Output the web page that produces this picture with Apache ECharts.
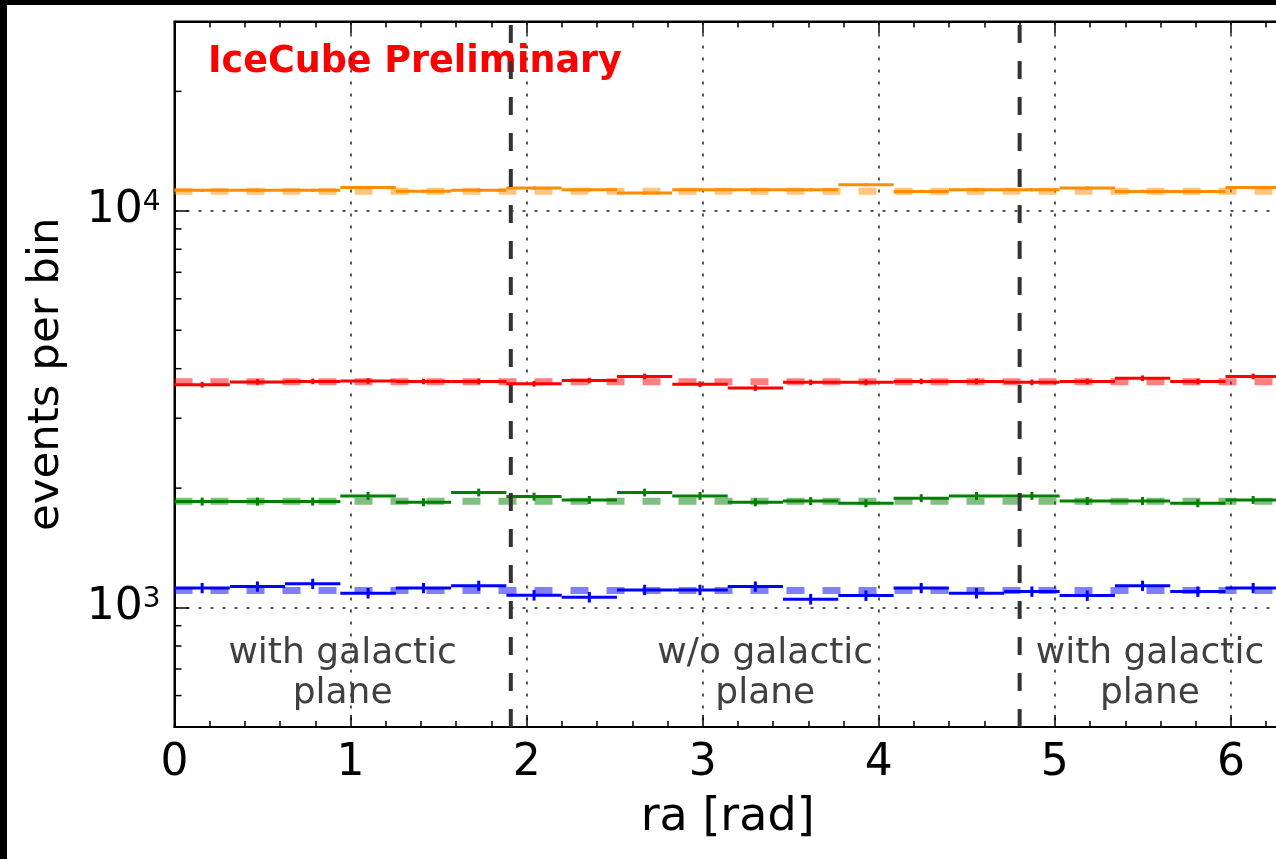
<!DOCTYPE html>
<html>
<head>
<meta charset="utf-8">
<script src="https://cdn.jsdelivr.net/npm/echarts@6/dist/echarts.min.js"></script>
<style>
    html, body {margin: 0; padding: 0; background: #000; width: 1276px; height: 859px; overflow: hidden;}
    #chart {position: absolute; left: 7px; top: 5px; width: 1269px; height: 854px; background: #fff;}
</style>
</head>
<body>
<div id="chart"></div>
<script>
// ra bin edges [rad], 20 bins over 0..2pi
const binEdges = [0, 0.314, 0.628, 0.942, 1.257, 1.571, 1.885, 2.199, 2.513, 2.827, 3.142,
    3.456, 3.770, 4.084, 4.398, 4.712, 5.027, 5.341, 5.655, 5.969, 6.283];

// events per bin (data, solid) and expectation (dashed)
const orangeData = [11260, 11260, 11260, 11450, 11200, 11270, 11410, 11300, 11090, 11300,
    11300, 11300, 11640, 11190, 11300, 11300, 11410, 11190, 11190, 11450];
const orangeExp = [11200, 11200, 11200, 11200, 11200, 11200, 11200, 11200, 11200, 11200,
    11200, 11200, 11200, 11200, 11200, 11200, 11200, 11200, 11200, 11200];
const redData = [3645, 3705, 3715, 3725, 3715, 3715, 3665, 3735, 3825, 3655,
    3575, 3695, 3695, 3715, 3715, 3695, 3715, 3785, 3715, 3825];
const redExp = [3710, 3710, 3710, 3710, 3710, 3710, 3710, 3710, 3710, 3710,
    3710, 3710, 3710, 3710, 3710, 3710, 3710, 3710, 3710, 3710];
const greenData = [1850, 1850, 1850, 1912, 1843, 1950, 1904, 1868, 1950, 1912,
    1843, 1856, 1833, 1887, 1912, 1912, 1857, 1857, 1833, 1868];
const greenExp = [1852, 1852, 1852, 1852, 1852, 1852, 1852, 1852, 1852, 1852,
    1852, 1852, 1852, 1852, 1852, 1852, 1852, 1852, 1852, 1852];
const blueData = [1120, 1130, 1148, 1087, 1120, 1135, 1074, 1062, 1108, 1108,
    1130, 1050, 1072, 1120, 1087, 1097, 1072, 1135, 1097, 1120];
const blueExp = [1104, 1104, 1104, 1104, 1104, 1104, 1104, 1104, 1104, 1104,
    1104, 1104, 1104, 1104, 1104, 1104, 1104, 1104, 1104, 1104];

// galactic plane boundaries and region labels
const planeEdges = [1.91, 4.80];
const regionX = [0.955, 3.355, 5.54];
const regionY = 680;
const regionText = ['with galactic\nplane', 'w/o galactic\nplane', 'with galactic\nplane'];

// y minor ticks (log axis)
const yMinorTicks = [600, 700, 800, 900, 2000, 3000, 4000, 5000, 6000, 7000, 8000, 9000, 20000];

const Y_MIN = 500, Y_MAX = 30000, RA_MAX = 6.2832;
const FONT = 'DejaVu Sans';

const groups = [
    {color: '#ff8c00', data: orangeData, exp: orangeExp},
    {color: '#ff0000', data: redData, exp: redExp},
    {color: '#008000', data: greenData, exp: greenExp},
    {color: '#0000ff', data: blueData, exp: blueExp}
];

function histRender(color) {
    return function (params, api) {
        const v = api.value(2), err = api.value(3);
        const lo = api.coord([api.value(0), v]);
        const hi = api.coord([api.value(1), v]);
        const mid = (api.value(0) + api.value(1)) / 2;
        const top = api.coord([mid, v + err]);
        const bot = api.coord([mid, v - err]);
        return {
            type: 'group',
            children: [
                {type: 'line', shape: {x1: lo[0], y1: lo[1], x2: hi[0], y2: hi[1]}, style: {stroke: color, lineWidth: 3}},
                {type: 'line', shape: {x1: top[0], y1: top[1], x2: bot[0], y2: bot[1]}, style: {stroke: color, lineWidth: 3}}
            ]
        };
    };
}

let series = [];
groups.forEach(function (g) {
    let expPoints = binEdges.map(function (x, i) {
        return [x, g.exp[Math.min(i, g.exp.length - 1)]];
    });
    series.push({
        type: 'line',
        step: 'end',
        data: expPoints,
        showSymbol: false,
        silent: true,
        z: 2,
        lineStyle: {color: g.color, width: 7, type: [18, 18], opacity: 0.5}
    });
});
groups.forEach(function (g) {
    let bins = g.data.map(function (v, i) {
        return [binEdges[i], binEdges[i + 1], v, Math.sqrt(v)];
    });
    series.push({
        type: 'custom',
        data: bins,
        encode: {x: [0, 1], y: 2},
        renderItem: histRender(g.color),
        silent: true,
        z: 3
    });
});
planeEdges.forEach(function (x) {
    series.push({
        type: 'line',
        data: [[x, Y_MIN], [x, Y_MAX]],
        showSymbol: false,
        silent: true,
        z: 4,
        lineStyle: {color: '#333', width: 4, type: [18, 18]}
    });
});
series.push({
    type: 'custom',
    data: regionX.map(function (x, i) { return [x, regionY, i]; }),
    encode: {x: 0, y: 1},
    silent: true,
    z: 5,
    renderItem: function (params, api) {
        const p = api.coord([api.value(0), api.value(1)]);
        return {
            type: 'text',
            x: p[0], y: p[1],
            style: {
                text: regionText[api.value(2)],
                fill: '#404040',
                font: '36px "' + FONT + '"',
                align: 'center',
                verticalAlign: 'middle',
                lineHeight: 40
            }
        };
    }
});
series.push({
    type: 'custom',
    data: yMinorTicks.map(function (v) { return [0, v]; }),
    encode: {x: 0, y: 1},
    silent: true,
    z: 6,
    renderItem: function (params, api) {
        const p = api.coord([api.value(0), api.value(1)]);
        return {
            type: 'line',
            shape: {x1: p[0], y1: p[1], x2: p[0] + 7, y2: p[1]},
            style: {stroke: '#000', lineWidth: 1.5}
        };
    }
});

const dotted = {color: '#222', width: 1.5, type: [3, 9]};

let option = {
    animation: false,
    textStyle: {fontFamily: FONT},
    grid: {
        left: 167.5, top: 16.5, width: 1106.3, height: 705.5,
        outerBoundsMode: 'none',
        show: true, borderColor: '#000', borderWidth: 2, backgroundColor: 'transparent'
    },
    graphic: [{
        type: 'text',
        left: 201,
        top: 39,
        style: {text: 'IceCube Preliminary', fill: '#ff0000', font: 'bold 36.5px "' + FONT + '"'}
    }],
    xAxis: [{
        type: 'value',
        min: 0,
        max: RA_MAX,
        interval: 1,
        position: 'bottom',
        name: 'ra [rad]',
        nameLocation: 'middle',
        nameGap: 68,
        nameTextStyle: {fontSize: 46, color: '#000', fontFamily: FONT},
        axisLine: {show: true, lineStyle: {color: '#000', width: 2}},
        axisTick: {show: true, inside: true, length: 12, lineStyle: {color: '#000', width: 1.5}},
        minorTick: {show: true, splitNumber: 5, length: 6, lineStyle: {color: '#000', width: 1.5}},
        axisLabel: {fontSize: 44, color: '#000', margin: 15, showMaxLabel: false,
            formatter: function (v) { return Math.abs(v - Math.round(v)) < 1e-6 ? String(Math.round(v)) : ''; }},
        splitLine: {show: true, lineStyle: dotted}
    }, {
        type: 'value',
        min: 0,
        max: RA_MAX,
        interval: 1,
        position: 'top',
        axisLine: {show: true, lineStyle: {color: '#000', width: 2}},
        axisTick: {show: true, inside: true, length: 12, lineStyle: {color: '#000', width: 1.5}},
        minorTick: {show: true, splitNumber: 5, length: 6, lineStyle: {color: '#000', width: 1.5}},
        axisLabel: {show: false},
        splitLine: {show: false}
    }],
    yAxis: {
        type: 'log',
        logBase: 10,
        min: Y_MIN,
        max: Y_MAX,
        name: 'events per bin',
        nameLocation: 'middle',
        nameRotate: 90,
        nameGap: 106,
        nameTextStyle: {fontSize: 43.5, color: '#000', fontFamily: FONT},
        axisLine: {show: true, lineStyle: {color: '#000', width: 2}},
        axisTick: {show: true, inside: true, length: 14, lineStyle: {color: '#000', width: 1.5}},
        axisLabel: {
            margin: 14,
            formatter: function (v) {
                const e = Math.round(Math.log10(v));
                if (Math.abs(Math.log10(v) - e) > 1e-6) return '';
                return '{b|10}{s|' + e + '}';
            },
            rich: {
                b: {fontSize: 44, color: '#000', fontFamily: FONT},
                s: {fontSize: 28, color: '#000', fontFamily: FONT, verticalAlign: 'top'}
            }
        },
        splitLine: {show: true, lineStyle: dotted}
    },
    series: series
};

const chart = echarts.init(document.getElementById('chart'));
chart.setOption(option);
</script>
</body>
</html>
